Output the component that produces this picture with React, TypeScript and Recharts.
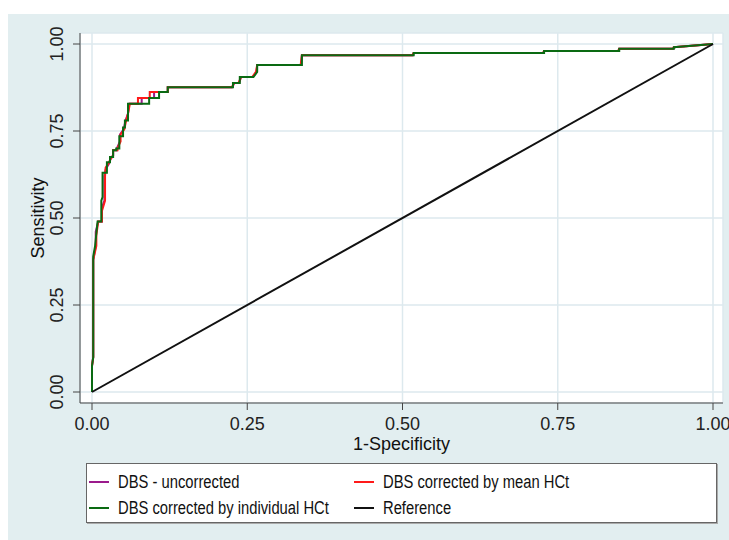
import React from 'react';
import {
  LineChart,
  Line,
  XAxis,
  YAxis,
  CartesianGrid,
} from 'recharts';

// ROC curves, points are [1-specificity, sensitivity]
const uncorrected: [number, number][] = [
  [0, 0], [0, 0.075], [0.002, 0.1], [0.002, 0.38], [0.006, 0.42], [0.006, 0.46],
  [0.01, 0.49], [0.016, 0.49], [0.016, 0.53], [0.02, 0.55], [0.02, 0.62],
  [0.022, 0.64], [0.027, 0.655], [0.03, 0.67], [0.034, 0.68], [0.034, 0.695],
  [0.04, 0.695], [0.04, 0.70], [0.045, 0.72], [0.045, 0.74], [0.051, 0.755],
  [0.054, 0.78], [0.058, 0.80], [0.06, 0.828], [0.08, 0.828], [0.08, 0.845],
  [0.1, 0.845], [0.1, 0.862], [0.122, 0.862], [0.122, 0.876], [0.226, 0.876],
  [0.229, 0.888], [0.237, 0.888], [0.24, 0.905], [0.259, 0.905], [0.265, 0.92],
  [0.266, 0.94], [0.337, 0.94], [0.338, 0.968], [0.517, 0.968], [0.518, 0.974],
  [0.727, 0.974], [0.728, 0.98], [0.848, 0.98], [0.849, 0.986], [0.936, 0.986],
  [0.937, 0.991], [1, 1],
];

const meanHct: [number, number][] = [
  [0, 0], [0, 0.075], [0.002, 0.1], [0.002, 0.38], [0.007, 0.42], [0.007, 0.45],
  [0.01, 0.49], [0.016, 0.49], [0.016, 0.52], [0.021, 0.55], [0.021, 0.62],
  [0.022, 0.645], [0.026, 0.655], [0.03, 0.67], [0.034, 0.68], [0.034, 0.695],
  [0.041, 0.695], [0.041, 0.70], [0.046, 0.72], [0.046, 0.74], [0.052, 0.755],
  [0.055, 0.78], [0.058, 0.80], [0.061, 0.828], [0.074, 0.828], [0.074, 0.845],
  [0.093, 0.845], [0.093, 0.862], [0.122, 0.862], [0.122, 0.876], [0.225, 0.876],
  [0.229, 0.888], [0.236, 0.888], [0.24, 0.905], [0.258, 0.905], [0.264, 0.92],
  [0.266, 0.94], [0.336, 0.94], [0.338, 0.968], [0.516, 0.968], [0.518, 0.974],
  [0.726, 0.974], [0.728, 0.98], [0.847, 0.98], [0.849, 0.986], [0.935, 0.986],
  [0.937, 0.991], [1, 1],
];

const individualHct: [number, number][] = [
  [0, 0], [0, 0.075], [0.002, 0.1], [0.002, 0.39], [0.005, 0.42], [0.009, 0.49],
  [0.015, 0.49], [0.015, 0.55], [0.017, 0.56], [0.017, 0.63], [0.024, 0.63],
  [0.024, 0.66], [0.029, 0.66], [0.029, 0.675], [0.034, 0.675], [0.034, 0.695],
  [0.039, 0.695], [0.039, 0.70], [0.044, 0.70], [0.044, 0.735], [0.05, 0.735],
  [0.05, 0.76], [0.053, 0.76], [0.053, 0.78], [0.058, 0.78], [0.058, 0.828],
  [0.092, 0.828], [0.092, 0.845], [0.108, 0.845], [0.108, 0.862], [0.122, 0.862],
  [0.122, 0.876], [0.227, 0.876], [0.227, 0.888], [0.238, 0.888], [0.238, 0.905],
  [0.26, 0.905], [0.266, 0.92], [0.266, 0.94], [0.338, 0.94], [0.338, 0.968],
  [0.518, 0.968], [0.518, 0.974], [0.728, 0.974], [0.728, 0.98], [0.849, 0.98],
  [0.849, 0.986], [0.937, 0.986], [0.937, 0.991], [1, 1],
];

const reference: [number, number][] = [[0, 0], [1, 1]];

const ticks = [0, 0.25, 0.5, 0.75, 1];

const series = [
  { name: 'DBS - uncorrected', color: '#9b1a8c', points: uncorrected },
  { name: 'DBS corrected by mean HCt', color: '#ff1a1a', points: meanHct },
  { name: 'DBS corrected by individual HCt', color: '#0a6a12', points: individualHct },
  { name: 'Reference', color: '#111111', points: reference },
];

const FONT = "'Liberation Sans', Arial, sans-serif";
const toRows = (pts: [number, number][]) => pts.map(([x, y]) => ({ x, y }));

function YTick(props: any) {
  const { x, y, payload } = props;
  const cx = x - 16;
  return (
    <text
      x={cx}
      y={y}
      transform={`rotate(-90 ${cx} ${y})`}
      textAnchor="middle"
      dominantBaseline="central"
      fontSize={18}
      fontFamily={FONT}
      fill="#222"
    >
      {payload.value.toFixed(2)}
    </text>
  );
}

function LegendItem({ name, color }: { name: string; color: string }) {
  return (
    <div style={{ display: 'flex', alignItems: 'center', height: 26, whiteSpace: 'nowrap' }}>
      <div style={{ width: 20, height: 2, background: color, marginRight: 9, flex: 'none' }} />
      <span
        style={{
          display: 'inline-block',
          transform: 'scaleX(0.82)',
          transformOrigin: 'left center',
        }}
      >
        {name}
      </span>
    </div>
  );
}

export default function App() {
  return (
    <div
      style={{
        position: 'absolute',
        left: 0,
        top: 0,
        width: 729,
        height: 540,
        background: '#fff',
        fontFamily: FONT,
      }}
    >
      <div
        style={{
          position: 'absolute',
          left: 8,
          top: 14,
          width: 721,
          height: 526,
          background: '#e2eef0',
        }}
      />
      <div style={{ position: 'absolute', left: 0, top: 0 }}>
        <LineChart
          width={729}
          height={540}
          margin={{ top: 33, right: 6, bottom: 77, left: 20 }}
        >
          <CartesianGrid fill="#ffffff" stroke="#dde9ee" strokeWidth={1.5} />
          <XAxis
            dataKey="x"
            type="number"
            domain={[0, 1]}
            ticks={ticks}
            padding={{ left: 12, right: 10 }}
            height={60}
            tickSize={7}
            tickMargin={7}
            tickFormatter={(v: number) => v.toFixed(2)}
            tick={{ fontSize: 18, fill: '#222', fontFamily: FONT }}
            stroke="#444"
            label={{
              value: '1-Specificity',
              position: 'insideBottom',
              offset: 13,
              fontSize: 18,
              fill: '#111',
              fontFamily: FONT,
            }}
          />
          <YAxis
            dataKey="y"
            type="number"
            domain={[0, 1]}
            ticks={ticks}
            padding={{ top: 11, bottom: 11 }}
            width={60}
            tickSize={7}
            tickMargin={0}
            tick={<YTick />}
            stroke="#444"
            label={{
              content: (p: any) => {
                const vb = p.viewBox;
                const cx = vb.x + 18;
                const cy = vb.y + vb.height / 2;
                return (
                  <text
                    x={cx}
                    y={cy}
                    transform={`rotate(-90 ${cx} ${cy})`}
                    textAnchor="middle"
                    dominantBaseline="central"
                    fontSize={18}
                    fontFamily={FONT}
                    fill="#111"
                  >
                    Sensitivity
                  </text>
                );
              },
            }}
          />
          {series.map((s) => (
            <Line
              key={s.name}
              data={toRows(s.points)}
              dataKey="y"
              name={s.name}
              type="linear"
              stroke={s.color}
              strokeWidth={2}
              dot={false}
              activeDot={false}
              isAnimationActive={false}
            />
          ))}
        </LineChart>
      </div>
      <div
        style={{
          position: 'absolute',
          left: 86,
          top: 463,
          width: 631,
          height: 60,
          background: '#fff',
          border: '1px solid #666',
          boxShadow: '1px 1px 0 #aaa',
          boxSizing: 'border-box',
          fontFamily: FONT,
          fontSize: 18,
          color: '#111',
          display: 'grid',
          gridTemplateColumns: '265px 1fr',
          gridAutoRows: '26px',
          paddingLeft: 2,
          paddingTop: 5,
        }}
      >
        {series.map((s) => (
          <LegendItem key={s.name} name={s.name} color={s.color} />
        ))}
      </div>
    </div>
  );
}
